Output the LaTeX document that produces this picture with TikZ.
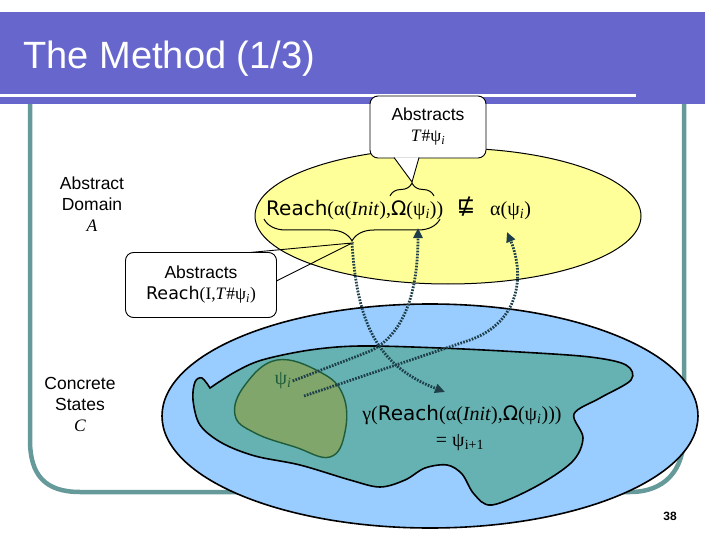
\documentclass[tikz,border=0pt]{standalone}
\usepackage{fontspec}
\setmainfont{Liberation Sans}
\newfontfamily\verd{DejaVu Sans}
\newfontfamily\tms{Liberation Serif}
\usetikzlibrary{decorations.pathreplacing,arrows.meta}

\definecolor{barblue}{HTML}{6666CC}
\definecolor{framecol}{HTML}{669999}
\definecolor{absyellow}{HTML}{FFFF99}
\definecolor{conblue}{HTML}{99CCFF}
\definecolor{reachteal}{HTML}{66B2B2}
\definecolor{psigreen}{HTML}{80A66B}
\definecolor{psiline}{HTML}{1F5C3A}
\definecolor{arrowcol}{HTML}{1E3F4A}

\newcommand{\gk}[1]{{\tms #1}}
\newcommand{\psisub}[1]{{\tms ψ\textsubscript{\itshape #1}}}
\newcommand{\reachexpr}{{\verd Reach}\gk{(α(\textit{Init}),}{\verd Ω}\gk{(}\psisub{i}\gk{))}}
\newcommand{\lbl}{\fontsize{17.5}{21}\selectfont}
\newcommand{\frm}{\fontsize{20}{24}\selectfont}

\begin{document}
\begin{tikzpicture}[x=1pt, y=-1pt,
    callout/.style={draw, rounded corners=8pt, fill=white, line width=0.9pt, align=center, font=\lbl},
    sidelabel/.style={align=center, font=\lbl},
    dotarrow/.style={arrowcol, line width=2.8pt, dash pattern=on 1.7pt off 1.3pt, -{Triangle[length=10pt,width=9pt]}},
    bracestyle/.style={decorate, line width=1pt},
]
\path[use as bounding box] (0,0) rectangle (720,540);

% frame and title bar
\draw[framecol, line width=4.5pt] (30,100) -- (30,440) .. controls (30,475) and (45,492) .. (80,492)
  -- (630,492) .. controls (665,492) and (684,470) .. (684,435) -- (684,100);
\fill[barblue] (0,12) rectangle (705,104);
\draw[white, line width=3pt] (0,96) -- (636,96);
\node[anchor=base west, text=white, font=\fontsize{38}{40}\selectfont] (title) at (20,69) {The Method (1/3)};

% domains
\draw[fill=absyellow, line width=1pt] (448,216) ellipse [x radius=193, y radius=68];
\draw[fill=conblue, line width=1.6pt] (430,416) ellipse [x radius=268, y radius=112];
\draw[fill=reachteal, line width=1.6pt] plot[smooth, tension=0.55] coordinates {
  (210,388) (235,372) (262,360) (310,350) (360,346) (440,348) (520,352) (590,357) (626,365)
  (631,380) (600,398) (574,414) (583,438) (572,462) (535,487) (492,505) (474,494) (462,474)
  (447,465) (425,468) (405,480) (380,487) (350,480) (300,465) (255,456) (222,443) (200,425)
  (193,400) (195,382) (202,378) (210,388)} -- cycle;
\draw[fill=psigreen, draw=psiline, line width=1.4pt] plot[smooth cycle, tension=0.7] coordinates {
  (277,360) (320,372) (343,395) (345,432) (330,457) (295,447) (255,433) (235,415) (245,385)};

% side labels
\node[sidelabel] (abslbl) at (92,204) {Abstract\\Domain\\{\tms\itshape A}};
\node[sidelabel] (conlbl) at (80,404) {Concrete\\States\\{\tms\itshape C}};

% formulas
\node[anchor=base west, font=\frm, inner sep=0pt] (reachA) at (266,215) {\reachexpr};
\node[font=\verd\fontsize{22}{22}\selectfont, inner sep=0pt] (nsq) at (466,207) {⋢};
\node[anchor=base west, font=\frm, inner sep=0pt] (alpsi) at (490,215) {\gk{α(}\psisub{i}\gk{)}};
\node[font=\frm, text=psiline, inner sep=1pt] (psi) at (283,381) {\psisub{i}};
\node[anchor=base, font=\frm, inner sep=0pt] (gam) at (462,420) {\gk{γ(}\reachexpr\gk{)}};
\node[anchor=base, font=\frm, inner sep=0pt] (gnext) at (460,446) {\gk{= ψ\textsubscript{i+1}}};

% braces
\draw[bracestyle, decoration={brace, amplitude=22pt, aspect=0.5}] (440,219) -- (264,219);
\coordinate (brR) at (352,243);
\draw[bracestyle, decoration={brace, amplitude=13pt, aspect=0.5}] (390,196) -- (434,196);
\coordinate (brO) at (412,182);

% callouts
\node[callout, minimum width=116pt, minimum height=62pt] (absT) at (428,127)
  {Abstracts\\\gk{\textit{T}\#}\psisub{i}};
\draw[fill=white, line width=0.9pt] (394,157.5) -- (brO) -- (419,157.5);
\node[callout, minimum width=151pt, minimum height=65pt] (absR) at (201,285)
  {Abstracts\\{\verd Reach}\gk{(I,\textit{T}\#}\psisub{i}\gk{)}};
\draw[line width=0.9pt] (250,252.5) -- (brR) -- (276.5,281);

% arrows
\draw[dotarrow] (psi.east) -- (368,352) .. controls (400,338) and (418,300) .. (418,228);
\draw[dotarrow] (brR) .. controls (357,320) and (375,365) .. (445,392);
\draw[dotarrow] (304,396) -- (470,340) .. controls (520,322) and (525,275) .. (507,232);

\node[font=\bfseries\fontsize{12}{12}\selectfont] (pageno) at (670,516) {38};
\end{tikzpicture}
\end{document}
